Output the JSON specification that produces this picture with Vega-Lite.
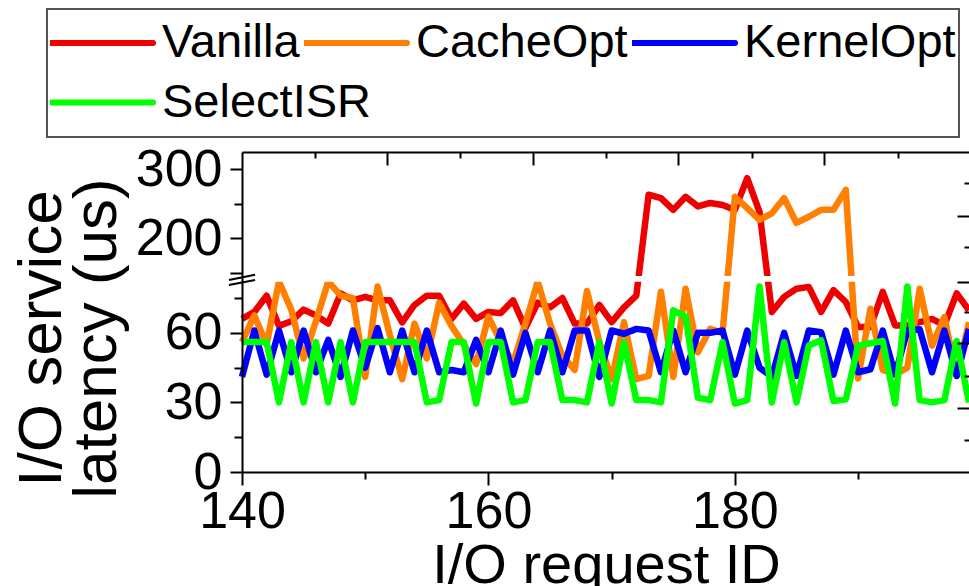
{
"$schema": "https://vega.github.io/schema/vega-lite/v6.json",
"width": 727, "height": 320,
"autosize": {"type": "none"},
"padding": {"left": 242, "top": 152, "right": 0, "bottom": 114},
"background": "white",
"config": {
 "font": "Liberation Sans",
 "view": {"stroke": null},
 "axis": {"grid": false, "domainColor": "black", "tickColor": "black", "labelColor": "black", "titleColor": "black", "domainWidth": 2, "tickWidth": 2, "labelFontWeight": "normal", "titleFontWeight": "normal", "labelOverlap": false, "labelFlush": false, "labelBound": false}
},
"data": {"values": [
{"id":140,"series":"Vanilla","latency":66},{"id":141,"series":"Vanilla","latency":69},{"id":142,"series":"Vanilla","latency":76},{"id":143,"series":"Vanilla","latency":63},{"id":144,"series":"Vanilla","latency":65},{"id":145,"series":"Vanilla","latency":70},{"id":146,"series":"Vanilla","latency":67.5},{"id":147,"series":"Vanilla","latency":64},{"id":148,"series":"Vanilla","latency":77},{"id":149,"series":"Vanilla","latency":74},
{"id":150,"series":"Vanilla","latency":75.5},{"id":151,"series":"Vanilla","latency":74},{"id":152,"series":"Vanilla","latency":74},{"id":153,"series":"Vanilla","latency":64.5},{"id":154,"series":"Vanilla","latency":72},{"id":155,"series":"Vanilla","latency":76},{"id":156,"series":"Vanilla","latency":76},{"id":157,"series":"Vanilla","latency":66},{"id":158,"series":"Vanilla","latency":72.6},{"id":159,"series":"Vanilla","latency":66},
{"id":160,"series":"Vanilla","latency":69},{"id":161,"series":"Vanilla","latency":68.5},{"id":162,"series":"Vanilla","latency":74},{"id":163,"series":"Vanilla","latency":62},{"id":164,"series":"Vanilla","latency":73},{"id":165,"series":"Vanilla","latency":71},{"id":166,"series":"Vanilla","latency":75},{"id":167,"series":"Vanilla","latency":64},{"id":168,"series":"Vanilla","latency":64},{"id":169,"series":"Vanilla","latency":72},
{"id":170,"series":"Vanilla","latency":64.6},{"id":171,"series":"Vanilla","latency":71},{"id":172,"series":"Vanilla","latency":76},{"id":173,"series":"Vanilla","latency":263},{"id":174,"series":"Vanilla","latency":258},{"id":175,"series":"Vanilla","latency":241},{"id":176,"series":"Vanilla","latency":260},{"id":177,"series":"Vanilla","latency":246},{"id":178,"series":"Vanilla","latency":251},{"id":179,"series":"Vanilla","latency":248},
{"id":180,"series":"Vanilla","latency":241},{"id":181,"series":"Vanilla","latency":287},{"id":182,"series":"Vanilla","latency":238},{"id":183,"series":"Vanilla","latency":69},{"id":184,"series":"Vanilla","latency":75.5},{"id":185,"series":"Vanilla","latency":79},{"id":186,"series":"Vanilla","latency":79.8},{"id":187,"series":"Vanilla","latency":69},{"id":188,"series":"Vanilla","latency":78.4},{"id":189,"series":"Vanilla","latency":73.3},
{"id":190,"series":"Vanilla","latency":62.5},{"id":191,"series":"Vanilla","latency":62.5},{"id":192,"series":"Vanilla","latency":77.7},{"id":193,"series":"Vanilla","latency":63.2},{"id":194,"series":"Vanilla","latency":63.2},{"id":195,"series":"Vanilla","latency":64.6},{"id":196,"series":"Vanilla","latency":66},{"id":197,"series":"Vanilla","latency":63.2},{"id":198,"series":"Vanilla","latency":77},{"id":199,"series":"Vanilla","latency":69.7},
{"id":140,"series":"CacheOpt","latency":56},{"id":141,"series":"CacheOpt","latency":67.5},{"id":142,"series":"CacheOpt","latency":55},{"id":143,"series":"CacheOpt","latency":86},{"id":144,"series":"CacheOpt","latency":70},{"id":145,"series":"CacheOpt","latency":49},{"id":146,"series":"CacheOpt","latency":65},{"id":147,"series":"CacheOpt","latency":86},{"id":148,"series":"CacheOpt","latency":76},{"id":149,"series":"CacheOpt","latency":75},
{"id":150,"series":"CacheOpt","latency":41},{"id":151,"series":"CacheOpt","latency":80},{"id":152,"series":"CacheOpt","latency":59},{"id":153,"series":"CacheOpt","latency":40},{"id":154,"series":"CacheOpt","latency":64},{"id":155,"series":"CacheOpt","latency":49},{"id":156,"series":"CacheOpt","latency":73},{"id":157,"series":"CacheOpt","latency":63},{"id":158,"series":"CacheOpt","latency":55},{"id":159,"series":"CacheOpt","latency":46.5},
{"id":160,"series":"CacheOpt","latency":67},{"id":161,"series":"CacheOpt","latency":56},{"id":162,"series":"CacheOpt","latency":47},{"id":163,"series":"CacheOpt","latency":64},{"id":164,"series":"CacheOpt","latency":86},{"id":165,"series":"CacheOpt","latency":64},{"id":166,"series":"CacheOpt","latency":50},{"id":167,"series":"CacheOpt","latency":44},{"id":168,"series":"CacheOpt","latency":78},{"id":169,"series":"CacheOpt","latency":56},
{"id":170,"series":"CacheOpt","latency":40},{"id":171,"series":"CacheOpt","latency":64.6},{"id":172,"series":"CacheOpt","latency":40},{"id":173,"series":"CacheOpt","latency":41.4},{"id":174,"series":"CacheOpt","latency":77.7},{"id":175,"series":"CacheOpt","latency":41},{"id":176,"series":"CacheOpt","latency":79},{"id":177,"series":"CacheOpt","latency":51.6},{"id":178,"series":"CacheOpt","latency":61.7},{"id":179,"series":"CacheOpt","latency":60},
{"id":180,"series":"CacheOpt","latency":260},{"id":181,"series":"CacheOpt","latency":243.5},{"id":182,"series":"CacheOpt","latency":226.5},{"id":183,"series":"CacheOpt","latency":236},{"id":184,"series":"CacheOpt","latency":258},{"id":185,"series":"CacheOpt","latency":222},{"id":186,"series":"CacheOpt","latency":231},{"id":187,"series":"CacheOpt","latency":241},{"id":188,"series":"CacheOpt","latency":241},{"id":189,"series":"CacheOpt","latency":270},
{"id":190,"series":"CacheOpt","latency":40.3},{"id":191,"series":"CacheOpt","latency":70.4},{"id":192,"series":"CacheOpt","latency":44},{"id":193,"series":"CacheOpt","latency":42},{"id":194,"series":"CacheOpt","latency":45},{"id":195,"series":"CacheOpt","latency":79},{"id":196,"series":"CacheOpt","latency":54.5},{"id":197,"series":"CacheOpt","latency":66.8},{"id":198,"series":"CacheOpt","latency":41.4},{"id":199,"series":"CacheOpt","latency":64.6},
{"id":140,"series":"KernelOpt","latency":41},{"id":141,"series":"KernelOpt","latency":61},{"id":142,"series":"KernelOpt","latency":42},{"id":143,"series":"KernelOpt","latency":61},{"id":144,"series":"KernelOpt","latency":43},{"id":145,"series":"KernelOpt","latency":61},{"id":146,"series":"KernelOpt","latency":43},{"id":147,"series":"KernelOpt","latency":57},{"id":148,"series":"KernelOpt","latency":41},{"id":149,"series":"KernelOpt","latency":61},
{"id":150,"series":"KernelOpt","latency":45},{"id":151,"series":"KernelOpt","latency":62},{"id":152,"series":"KernelOpt","latency":43},{"id":153,"series":"KernelOpt","latency":61},{"id":154,"series":"KernelOpt","latency":43},{"id":155,"series":"KernelOpt","latency":61},{"id":156,"series":"KernelOpt","latency":43},{"id":157,"series":"KernelOpt","latency":44},{"id":158,"series":"KernelOpt","latency":43},{"id":159,"series":"KernelOpt","latency":57},
{"id":160,"series":"KernelOpt","latency":43},{"id":161,"series":"KernelOpt","latency":61},{"id":162,"series":"KernelOpt","latency":42},{"id":163,"series":"KernelOpt","latency":60},{"id":164,"series":"KernelOpt","latency":43},{"id":165,"series":"KernelOpt","latency":61},{"id":166,"series":"KernelOpt","latency":43},{"id":167,"series":"KernelOpt","latency":61},{"id":168,"series":"KernelOpt","latency":61},{"id":169,"series":"KernelOpt","latency":41},
{"id":170,"series":"KernelOpt","latency":61},{"id":171,"series":"KernelOpt","latency":59.6},{"id":172,"series":"KernelOpt","latency":61.7},{"id":173,"series":"KernelOpt","latency":61},{"id":174,"series":"KernelOpt","latency":43},{"id":175,"series":"KernelOpt","latency":61},{"id":176,"series":"KernelOpt","latency":43},{"id":177,"series":"KernelOpt","latency":60},{"id":178,"series":"KernelOpt","latency":60},{"id":179,"series":"KernelOpt","latency":61},
{"id":180,"series":"KernelOpt","latency":42},{"id":181,"series":"KernelOpt","latency":61},{"id":182,"series":"KernelOpt","latency":45},{"id":183,"series":"KernelOpt","latency":41},{"id":184,"series":"KernelOpt","latency":60},{"id":185,"series":"KernelOpt","latency":41.4},{"id":186,"series":"KernelOpt","latency":61},{"id":187,"series":"KernelOpt","latency":60.3},{"id":188,"series":"KernelOpt","latency":42},{"id":189,"series":"KernelOpt","latency":61},
{"id":190,"series":"KernelOpt","latency":43},{"id":191,"series":"KernelOpt","latency":44.3},{"id":192,"series":"KernelOpt","latency":61},{"id":193,"series":"KernelOpt","latency":42},{"id":194,"series":"KernelOpt","latency":61},{"id":195,"series":"KernelOpt","latency":61.5},{"id":196,"series":"KernelOpt","latency":43},{"id":197,"series":"KernelOpt","latency":61},{"id":198,"series":"KernelOpt","latency":41.4},{"id":199,"series":"KernelOpt","latency":61.7},
{"id":140,"series":"SelectISR","latency":56},{"id":141,"series":"SelectISR","latency":56},{"id":142,"series":"SelectISR","latency":56},{"id":143,"series":"SelectISR","latency":30},{"id":144,"series":"SelectISR","latency":56},{"id":145,"series":"SelectISR","latency":30},{"id":146,"series":"SelectISR","latency":56},{"id":147,"series":"SelectISR","latency":30},{"id":148,"series":"SelectISR","latency":56},{"id":149,"series":"SelectISR","latency":30},
{"id":150,"series":"SelectISR","latency":56},{"id":151,"series":"SelectISR","latency":56},{"id":152,"series":"SelectISR","latency":56},{"id":153,"series":"SelectISR","latency":56},{"id":154,"series":"SelectISR","latency":56},{"id":155,"series":"SelectISR","latency":30},{"id":156,"series":"SelectISR","latency":31},{"id":157,"series":"SelectISR","latency":56},{"id":158,"series":"SelectISR","latency":56},{"id":159,"series":"SelectISR","latency":29.5},
{"id":160,"series":"SelectISR","latency":56},{"id":161,"series":"SelectISR","latency":56},{"id":162,"series":"SelectISR","latency":30},{"id":163,"series":"SelectISR","latency":31},{"id":164,"series":"SelectISR","latency":56},{"id":165,"series":"SelectISR","latency":56},{"id":166,"series":"SelectISR","latency":31},{"id":167,"series":"SelectISR","latency":31},{"id":168,"series":"SelectISR","latency":30},{"id":169,"series":"SelectISR","latency":56},
{"id":170,"series":"SelectISR","latency":29.5},{"id":171,"series":"SelectISR","latency":56},{"id":172,"series":"SelectISR","latency":31},{"id":173,"series":"SelectISR","latency":31},{"id":174,"series":"SelectISR","latency":30},{"id":175,"series":"SelectISR","latency":69.7},{"id":176,"series":"SelectISR","latency":67},{"id":177,"series":"SelectISR","latency":32},{"id":178,"series":"SelectISR","latency":31},{"id":179,"series":"SelectISR","latency":56},
{"id":180,"series":"SelectISR","latency":29.5},{"id":181,"series":"SelectISR","latency":31},{"id":182,"series":"SelectISR","latency":80},{"id":183,"series":"SelectISR","latency":30},{"id":184,"series":"SelectISR","latency":56},{"id":185,"series":"SelectISR","latency":30},{"id":186,"series":"SelectISR","latency":54.5},{"id":187,"series":"SelectISR","latency":56.8},{"id":188,"series":"SelectISR","latency":30.6},{"id":189,"series":"SelectISR","latency":31.3},
{"id":190,"series":"SelectISR","latency":54.5},{"id":191,"series":"SelectISR","latency":55.5},{"id":192,"series":"SelectISR","latency":56.5},{"id":193,"series":"SelectISR","latency":29.5},{"id":194,"series":"SelectISR","latency":80},{"id":195,"series":"SelectISR","latency":31},{"id":196,"series":"SelectISR","latency":30},{"id":197,"series":"SelectISR","latency":31},{"id":198,"series":"SelectISR","latency":56.5},{"id":199,"series":"SelectISR","latency":30}
]},
"layer": [
 {
  "transform": [{"filter": "datum.series != 'SelectISR'"}],
  "mark": {"type": "line", "strokeWidth": 6.5, "strokeJoin": "round"},
  "encoding": {
   "x": {"field": "id", "type": "quantitative",
    "scale": {"domain": [140, 199], "nice": false, "zero": false},
    "axis": {"orient": "bottom", "values": [140,150,160,170,180,190],
     "labelExpr": "datum.value % 20 == 0 ? datum.label : ''",
     "tickSize": {"condition": {"test": "datum.value % 20 == 0", "value": 13}, "value": 7},
     "labelFontSize": 52, "labelPadding": 1,
     "title": "I/O request ID", "titleFontSize": 56, "titleX": 364, "titleY": 110,
     "titleAlign": "center", "titleBaseline": "alphabetic", "zindex": 1}},
   "y": {"field": "latency", "type": "quantitative",
    "scale": {"domain": [0, 82, 145, 325], "range": [320, 129.8, 124, 0], "nice": false, "zero": false},
    "axis": {"orient": "left", "values": [0,15,30,45,60,75,150,200,250,300],
     "labelExpr": "indexof([0,30,60,200,300], datum.value) >= 0 ? datum.label : ''",
     "tickSize": {"condition": {"test": "indexof([0,30,60,150,200,300], datum.value) >= 0", "value": 12}, "value": 8},
     "labelFontSize": 52, "labelPadding": 8,
     "title": ["I/O service", "latency (us)"], "titleFontSize": 62, "titleLineHeight": 55,
     "titleAngle": 270, "titleX": -182, "titleY": 186, "titleAlign": "center", "titleBaseline": "alphabetic", "zindex": 1}},
   "color": {"field": "series", "type": "nominal",
    "scale": {"domain": ["Vanilla", "CacheOpt", "KernelOpt"], "range": ["#ee0000", "#ff8000", "#0000ff"]},
    "legend": {"orient": "none", "direction": "horizontal", "legendX": -195, "legendY": -143,
     "title": "\u00a0", "titleOrient": "bottom", "titleFontSize": 50, "titlePadding": 10,
     "symbolType": "stroke", "symbolSize": 10816, "symbolStrokeWidth": 6, "symbolOffset": -4, "labelFontSize": 47, "labelLimit": 500,
     "labelOffset": 6, "columnPadding": 4, "padding": 3, "clipHeight": 62,
     "strokeColor": "#555555", "labelColor": "black",
     "encode": {"legend": {"update": {"strokeWidth": {"value": 2}}}, "symbols": {"update": {"strokeCap": {"value": "round"}}}}}}
  }
 },
 {
  "transform": [{"filter": "datum.series == 'SelectISR'"}],
  "mark": {"type": "line", "strokeWidth": 6.5, "strokeJoin": "round"},
  "encoding": {
   "x": {"field": "id", "type": "quantitative", "axis": null},
   "y": {"field": "latency", "type": "quantitative", "axis": null},
   "stroke": {"field": "series", "type": "nominal",
    "scale": {"domain": ["SelectISR"], "range": ["#00ff00"]},
    "legend": {"orient": "none", "direction": "horizontal", "legendX": -195, "legendY": -82, "title": null,
     "symbolType": "stroke", "symbolSize": 10816, "symbolStrokeWidth": 6, "symbolOffset": -4, "labelFontSize": 47, "labelLimit": 500,
     "labelOffset": 6, "padding": 3, "clipHeight": 59, "labelColor": "black",
     "encode": {"symbols": {"update": {"strokeCap": {"value": "round"}}}}}}
  }
 },
 {
  "data": {"values": [{}]},
  "mark": {"type": "rect", "color": "white"},
  "encoding": {
   "x": {"datum": 140, "type": "quantitative",
    "axis": {"orient": "top", "values": [145.9,151.8,157.7,163.6,169.5,175.4,181.4,187.2,193.2], "labels": false, "title": null, "domain": true,
     "tickSize": {"condition": {"test": "indexof([151.8,163.6,175.4,187.2], datum.value) >= 0", "value": -13}, "value": -6}, "zindex": 1}},
   "x2": {"datum": 199},
   "y": {"datum": 82, "type": "quantitative",
    "axis": {"orient": "right", "values": [13.8,27.7,41.5,55.5,69.1,82,186.4,232.3,279.7], "labels": false, "title": null, "domain": false,
     "tickSize": {"condition": {"test": "indexof([27.7,55.5,82,232.3], datum.value) >= 0", "value": -12}, "value": -5}, "zindex": 1}},
   "y2": {"datum": 145}
  }
 },
 {
  "data": {"values": [{}]},
  "mark": {"type": "rule", "strokeWidth": 2, "color": "black"},
  "encoding": {
   "x": {"datum": 138.94, "type": "quantitative", "axis": null},
   "x2": {"datum": 141.06},
   "y": {"datum": 80.6, "type": "quantitative", "axis": null},
   "y2": {"datum": 101.6}
  }
 },
 {
  "data": {"values": [{}]},
  "mark": {"type": "rule", "strokeWidth": 2, "color": "black"},
  "encoding": {
   "x": {"datum": 138.94, "type": "quantitative", "axis": null},
   "x2": {"datum": 141.06},
   "y": {"datum": 101.6, "type": "quantitative", "axis": null},
   "y2": {"datum": 146.7}
  }
 }
],
"resolve": {"axis": {"x": "independent", "y": "independent"}}
}
